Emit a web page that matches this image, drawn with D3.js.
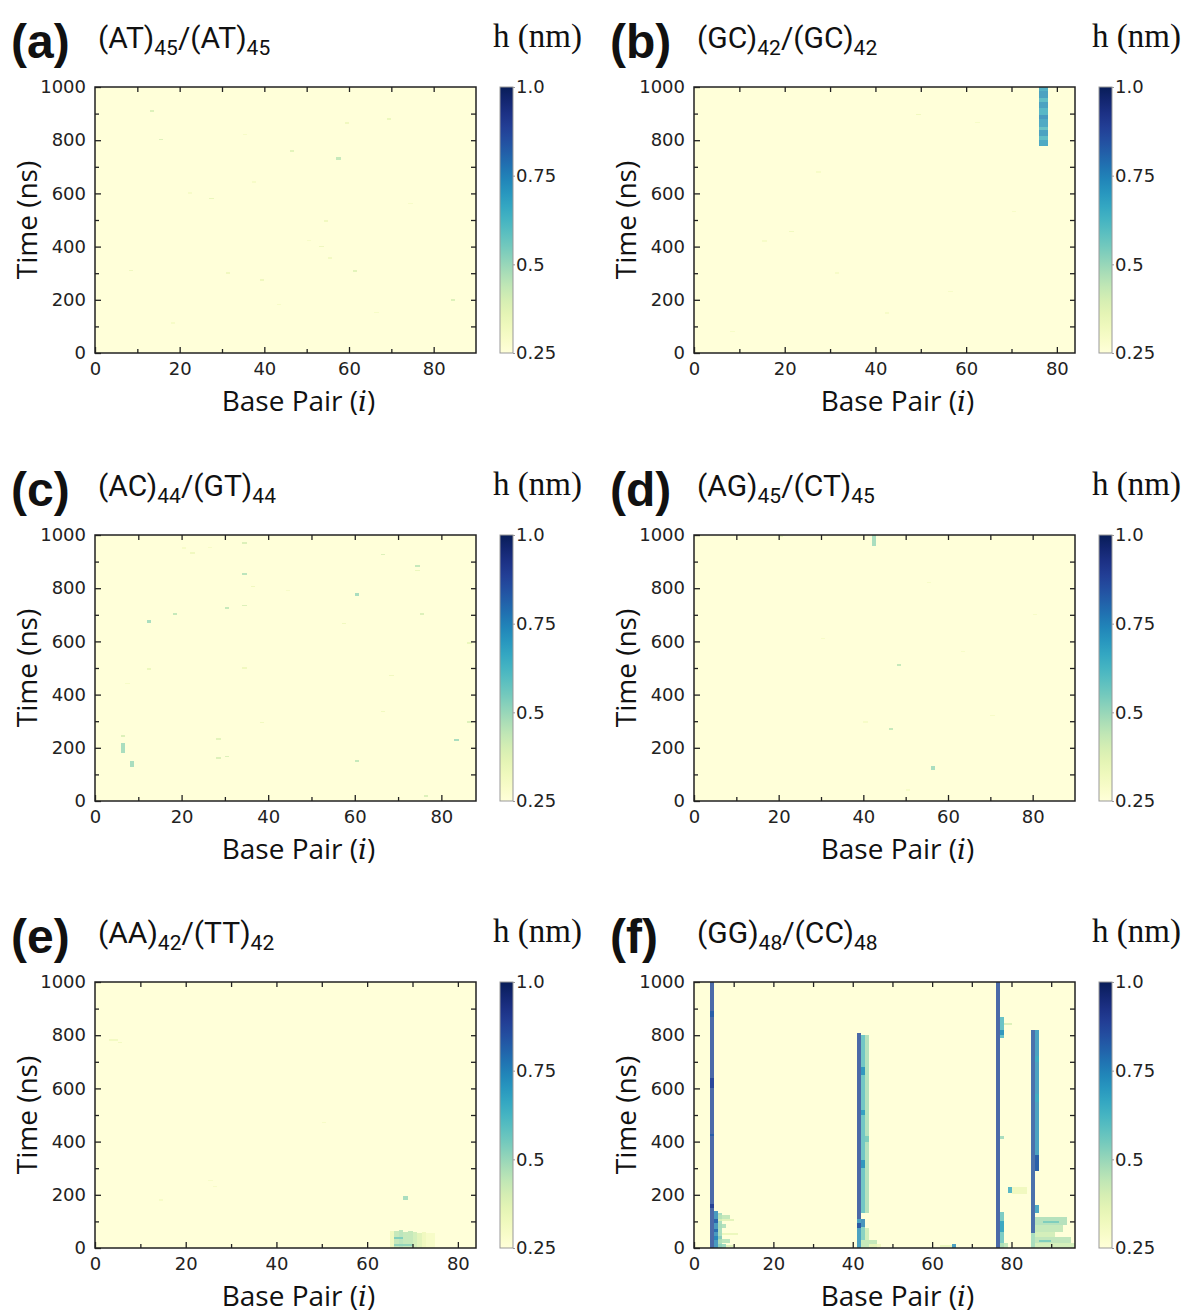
<!DOCTYPE html>
<html><head><meta charset="utf-8">
<script src="https://cdn.jsdelivr.net/npm/d3@7"></script>
<style>body{margin:0;background:#fff}svg{display:block}</style>
</head><body>
<svg id="chart" width="1186" height="1314"></svg>
<script>
// ---------- data ----------
const panelLabels = ["(a)","(b)","(c)","(d)","(e)","(f)"];
const titleA = ["(AT)","45","/(AT)","45"];
const titleB = ["(GC)","42","/(GC)","42"];
const titleC = ["(AC)","44","/(GT)","44"];
const titleD = ["(AG)","45","/(CT)","45"];
const titleE = ["(AA)","42","/(TT)","42"];
const titleF = ["(GG)","48","/(CC)","48"];
const basePairCounts = [90, 84, 88, 90, 84, 96];
const timeTicks = [0, 200, 400, 600, 800, 1000];
const bpTicks = [0, 20, 40, 60, 80];
const cbTicks = [0.25, 0.5, 0.75, 1.0];
const cbTickLabels = ["0.25", "0.5", "0.75", "1.0"];
const hMin = 0.25, hMax = 1.0;

// cells: [bpStart, bpEnd, tStart(ns), tEnd(ns), h(nm)]
const cellsA = [[13,14,905,912,0.4],[15,16,800,806,0.4],[57,58,727,735,0.45],[46,47,757,762,0.38],[84,85,197,203,0.4],
 [61,62,305,311,0.38],[27,28,578,584,0.36],[39,40,273,278,0.34],[31,32,298,303,0.33],[54,55,495,500,0.33],
 [53,54,398,403,0.34],[8,9,308,313,0.34],[69,70,878,883,0.35],[59,60,862,867,0.33],[22,23,600,605,0.3],
 [37,38,640,645,0.3],[74,75,560,565,0.3],[50,51,420,425,0.3],[66,67,150,155,0.3],[18,19,110,115,0.3],
 [43,44,180,185,0.3],[55,56,355,360,0.32],[35,36,820,825,0.3]];
const cellsB = [[76,78,778,800,0.7],[76,78,800,815,0.64],[76,78,815,840,0.72],[76,78,840,850,0.62],[76,78,850,880,0.7],
 [76,78,880,895,0.74],[76,78,895,920,0.66],[76,78,920,945,0.72],[76,78,945,960,0.64],[76,78,960,985,0.72],
 [76,78,985,1000,0.68],[21,22,455,460,0.33],[15,16,420,424,0.3],[49,50,895,899,0.33],[62,63,865,869,0.3],
 [31,32,300,304,0.3],[42,43,150,154,0.3],[56,57,230,234,0.3],[70,71,530,534,0.3],[8,9,80,84,0.3],[27,28,680,684,0.3]];
const cellsC = [[6,7,180,218,0.5],[6,7,243,248,0.4],[8,9,128,150,0.5],[12,13,668,682,0.5],[18,19,700,706,0.45],
 [30,31,722,728,0.45],[34,35,850,856,0.47],[34,35,967,973,0.4],[34,35,732,738,0.4],[60,61,772,783,0.5],
 [66,67,925,930,0.4],[74,75,880,886,0.45],[74,75,866,870,0.35],[75,76,700,706,0.4],[83,84,224,233,0.5],
 [86,87,294,300,0.4],[86,87,590,596,0.35],[60,61,147,153,0.45],[28,29,230,236,0.38],[28,29,160,165,0.4],
 [30,31,165,170,0.4],[34,35,498,502,0.33],[12,13,496,500,0.35],[76,77,18,22,0.4],[22,23,932,936,0.33],
 [36,37,806,810,0.33],[57,58,666,670,0.33],[68,69,470,474,0.33],[66,67,335,339,0.33],[38,39,293,297,0.33],
 [7,8,440,444,0.3],[20,21,950,954,0.3],[44,45,790,794,0.3],[26,27,950,955,0.3]];
const cellsD = [[42,43,960,1000,0.5],[20,21,992,997,0.36],[48,49,508,514,0.45],[46,47,267,273,0.45],[56,57,118,132,0.5],
 [40,41,295,300,0.3],[55,56,820,825,0.3],[63,64,560,565,0.3],[70,71,320,324,0.3],[80,81,700,704,0.3],
 [50,51,40,44,0.3],[30,31,610,614,0.3]];
const cellsE = [[65,66,0,65,0.33],[66,67,0,65,0.45],[67,68,0,68,0.47],[68,69,0,62,0.45],[69,70,0,65,0.45],
 [70,71,0,60,0.42],[71,72,0,58,0.38],[72,73,0,60,0.33],[73,75,0,55,0.3],[66,70,10,15,0.52],[66,68,35,40,0.55],
 [68,69,182,194,0.5],[3,5,778,784,0.32],[5,6,770,775,0.32],[25,26,252,256,0.3],[26,27,230,234,0.3],
 [14,15,180,184,0.3],[50,51,470,474,0.3]];
const cellsF = [
 [4,5,0,1000,0.86],[4,5,150,165,0.9],[4,5,420,430,0.82],[4,5,600,640,0.88],[4,5,870,890,0.82],
 [5,6,0,140,0.74],[5,6,95,110,0.82],[5,6,60,70,0.8],[5,7,30,45,0.74],[6,7,0,130,0.5],[6,9,110,125,0.45],
 [6,10,100,108,0.38],[6,8,75,92,0.48],[7,11,50,55,0.35],[6,9,20,35,0.47],[6,8,0,15,0.52],[8,10,5,12,0.38],
 [41,42,110,808,0.86],[42,43,130,800,0.6],[43,44,130,800,0.48],[42,43,300,330,0.72],[42,43,500,520,0.7],
 [42,43,650,680,0.72],[43,44,400,420,0.55],[41,42,0,110,0.72],[41,42,75,95,0.86],[42,43,80,110,0.75],
 [42,43,30,80,0.55],[43,44,30,75,0.42],[42,46,0,30,0.45],[44,47,5,15,0.33],
 [76,77,0,1000,0.86],[77,78,790,870,0.62],[77,78,800,820,0.72],[78,80,840,845,0.4],[77,78,0,135,0.58],
 [77,78,60,100,0.68],[77,79,0,20,0.45],[77,78,410,420,0.5],
 [79,80,205,228,0.66],[80,84,203,230,0.33],
 [85,86,56,820,0.84],[86,87,290,820,0.72],[86,87,290,350,0.84],[86,87,550,580,0.64],[86,87,700,720,0.64],
 [86,87,130,160,0.7],[86,94,85,115,0.48],[86,93,60,85,0.45],[86,91,40,60,0.42],[86,95,20,40,0.46],
 [86,96,0,20,0.42],[85,86,0,56,0.5],[88,92,95,100,0.55],[87,90,25,30,0.55],
 [62,65,3,12,0.35],[65,66,0,15,0.72]];

const titles = [titleA,titleB,titleC,titleD,titleE,titleF];
const cellSets = [cellsA,cellsB,cellsC,cellsD,cellsE,cellsF];

// ---------- layout ----------
const colDX = [0, 599], rowDY = [0, 448, 895];
const P = {x0:95, x1:476, y0:87, y1:353, cbX:500, cbW:13};

const svg = d3.select("#chart");
svg.append("rect").attr("width",1186).attr("height",1314).attr("fill","#fff");
const color = d3.scaleSequential(d3.interpolateYlGnBu).domain([hMin,hMax]).clamp(true);

const defs = svg.append("defs");
const grad = defs.append("linearGradient").attr("id","cbgrad").attr("x1",0).attr("x2",0).attr("y1",1).attr("y2",0);
d3.range(0,1.0001,0.05).forEach(t=>grad.append("stop").attr("offset",t).attr("stop-color",color(hMin+t*(hMax-hMin))));

const tickFont = "DejaVu Sans";
const labFont = "'Open Sans'";

for (let i=0;i<6;i++){
  const col=i%2,row=Math.floor(i/2);
  const gx=colDX[col], gy=rowDY[row];
  const g = svg.append("g");
  const x = d3.scaleLinear().domain([0,basePairCounts[i]]).range([P.x0+gx,P.x1+gx]);
  const y = d3.scaleLinear().domain([0,1000]).range([P.y1+gy,P.y0+gy]);

  g.append("rect").attr("x",x(0)).attr("y",y(1000)).attr("width",x(basePairCounts[i])-x(0))
   .attr("height",y(0)-y(1000)).attr("fill",color(hMin));
  g.append("g").attr("shape-rendering","crispEdges").selectAll("rect").data(cellSets[i]).join("rect")
   .attr("x",d=>x(d[0])).attr("width",d=>x(d[1])-x(d[0]))
   .attr("y",d=>y(d[3])).attr("height",d=>Math.max(1.5,y(d[2])-y(d[3])))
   .attr("fill",d=>color(d[4])).attr("fill-opacity",0.82);

  const fmt = d3.format("d");
  const bottom = g.append("g").attr("transform",`translate(0,${y(0)})`)
    .call(d3.axisBottom(x).tickValues(bpTicks).tickFormat(fmt).tickSizeInner(-6).tickSizeOuter(0).tickPadding(9));
  const minorBp = d3.range(10,basePairCounts[i],20);
  g.append("g").attr("transform",`translate(0,${y(0)})`)
    .call(d3.axisBottom(x).tickValues(minorBp).tickSizeInner(-4).tickSizeOuter(0).tickFormat(""));
  g.append("g").attr("transform",`translate(0,${y(1000)})`)
    .call(d3.axisTop(x).tickValues(d3.range(10,basePairCounts[i],10)).tickSizeInner(-5).tickSizeOuter(0).tickFormat(""));
  const left = g.append("g").attr("transform",`translate(${x(0)},0)`)
    .call(d3.axisLeft(y).tickValues(timeTicks).tickFormat(fmt).tickSizeInner(-6).tickSizeOuter(0).tickPadding(9));
  g.append("g").attr("transform",`translate(${x(0)},0)`)
    .call(d3.axisLeft(y).tickValues(d3.range(100,1000,200)).tickSizeInner(-4).tickSizeOuter(0).tickFormat(""));
  g.append("g").attr("transform",`translate(${x(basePairCounts[i])},0)`)
    .call(d3.axisRight(y).tickValues(d3.range(100,1000,100)).tickSizeInner(-5).tickSizeOuter(0).tickFormat(""));
  g.selectAll(".domain").remove();
  g.selectAll(".tick line").attr("stroke","#222").attr("stroke-width",1.3);
  [bottom,left].forEach(a=>a.selectAll("text").attr("font-family",tickFont).attr("font-size",18).attr("fill","#222"));
  g.append("rect").attr("x",x(0)).attr("y",y(1000)).attr("width",x(basePairCounts[i])-x(0))
   .attr("height",y(0)-y(1000)).attr("fill","none").attr("stroke","#222").attr("stroke-width",1.5);

  const xl = g.append("text").attr("x",(x(0)+x(basePairCounts[i]))/2+13).attr("y",y(0)+58)
    .attr("text-anchor","middle").attr("font-family",labFont).attr("font-size",28).attr("fill","#111");
  xl.append("tspan").text("Base Pair (");
  xl.append("tspan").attr("font-family","'DejaVu Serif'").attr("font-style","italic").text("i");
  xl.append("tspan").text(")");
  g.append("text").attr("transform",`translate(${x(0)-58},${(y(0)+y(1000))/2}) rotate(-90)`)
    .attr("text-anchor","middle").attr("font-family",labFont).attr("font-size",28).attr("fill","#111").text("Time (ns)");

  g.append("text").attr("x",11+gx).attr("y",58+gy).attr("font-family","'Liberation Sans'").attr("font-weight","bold")
   .attr("font-size",48).attr("fill","#111").text(panelLabels[i]);
  const t = g.append("text").attr("x",98+gx).attr("y",48+gy).attr("font-family","Roboto").attr("font-size",30).attr("fill","#111");
  const tp = titles[i];
  t.append("tspan").text(tp[0]);
  t.append("tspan").attr("font-size",21).attr("dy",7).text(tp[1]);
  t.append("tspan").attr("dy",-7).text(tp[2]);
  t.append("tspan").attr("font-size",21).attr("dy",7).text(tp[3]);
  g.append("text").attr("x",493+gx).attr("y",47+gy).attr("font-family","'Liberation Serif'").attr("font-size",33)
   .attr("fill","#111").text("h (nm)");

  const cb = d3.scaleLinear().domain([hMin,hMax]).range([P.y1+gy,P.y0+gy]);
  g.append("rect").attr("x",P.cbX+gx).attr("y",P.y0+gy).attr("width",P.cbW).attr("height",P.y1-P.y0)
   .attr("fill","url(#cbgrad)").attr("stroke","#999").attr("stroke-width",1);
  const cba = g.append("g").attr("transform",`translate(${P.cbX+gx+P.cbW},0)`)
   .call(d3.axisRight(cb).tickValues(cbTicks).tickFormat((d,k)=>cbTickLabels[k]).tickSizeInner(2).tickSizeOuter(0).tickPadding(1));
  cba.select(".domain").remove();
  cba.selectAll(".tick line").attr("stroke","#999");
  cba.selectAll("text").attr("font-family",tickFont).attr("font-size",18).attr("fill","#222");
}
</script>
</body></html>
